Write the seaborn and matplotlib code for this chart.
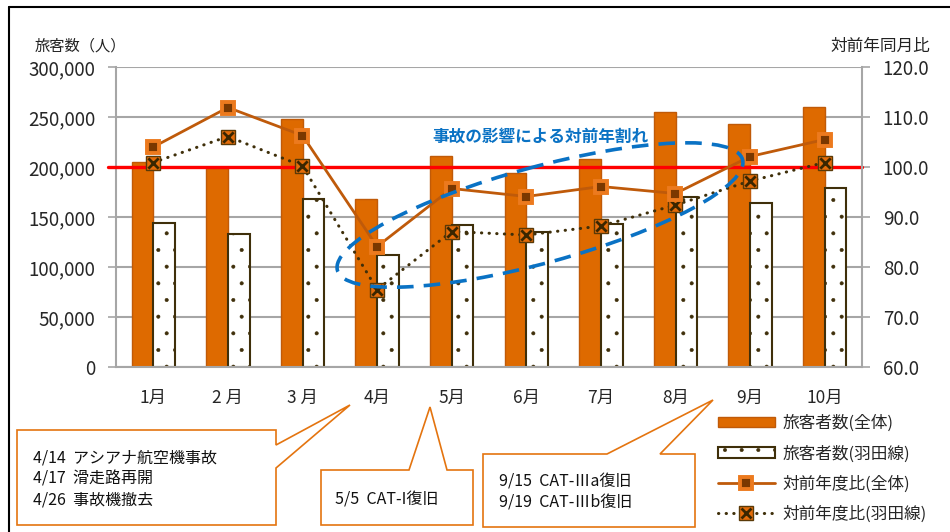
import numpy as np
import pandas as pd
import matplotlib
matplotlib.use("Agg")
import matplotlib.pyplot as plt
import seaborn as sns
from matplotlib import transforms as mtransforms
from matplotlib.patches import Polygon, Ellipse, Patch
from matplotlib.lines import Line2D
from matplotlib.legend_handler import HandlerTuple
from matplotlib.ticker import FuncFormatter

# ---------------- data ----------------
months = ["1月", "2 月", "3 月", "4月", "5月", "6月", "7月", "8月", "9月", "10月"]
pax_total = [205000, 199500, 248000, 168000, 211000, 194500, 208000, 255000, 243500, 260000]
pax_haneda = [144000, 133500, 168000, 112500, 142000, 135000, 143000, 170000, 164000, 179500]
yoy_total = [104.0, 111.9, 106.3, 84.1, 95.7, 94.1, 96.1, 94.7, 102.1, 105.5]
yoy_haneda = [100.9, 106.1, 100.2, 75.5, 87.1, 86.4, 88.2, 92.4, 97.2, 100.9]
series_names = ["旅客者数(全体)", "旅客者数(羽田線)", "対前年度比(全体)", "対前年度比(羽田線)"]
left_ticks = [0, 50000, 100000, 150000, 200000, 250000, 300000]
right_ticks = [60, 70, 80, 90, 100, 110, 120]
baseline = 100.0
left_title = "旅客数（人）"
right_title = "対前年同月比"
note_text = "事故の影響による対前年割れ"
callout1 = ["4/14  アシアナ航空機事故", "4/17  滑走路再開", "4/26  事故機撤去"]
callout2 = ["5/5  CAT-I復旧"]
callout3 = ["9/15  CAT-Ⅲa復旧", "9/19  CAT-Ⅲb復旧"]

# ---------------- style ----------------
sns.set_style("white")
plt.rcParams["font.family"] = ["Noto Sans CJK JP", "DejaVu Sans"]
plt.rcParams["hatch.linewidth"] = 0.4

ORANGE = "#DE6A00"
ORANGE_EDGE = "#C05A08"
DARK = "#3F2F0A"
LINE1 = "#BF5A0A"
MK_EDGE = "#EC7A1E"
MK_FACE = "#7A3800"
GRID = "#A6A6A6"
BLUE = "#0A72C4"
CALLOUT = "#E4740F"

W, H, DPI = 950, 532, 100
fig = plt.figure(figsize=(W / DPI, H / DPI), dpi=DPI)
T = mtransforms.Affine2D().scale(1 / DPI, -1 / DPI).translate(0, H / DPI) + fig.dpi_scale_trans

ax_l, ax_r, ax_t, ax_b = 116, 862, 67, 367
ax = fig.add_axes([ax_l / W, 1 - ax_b / H, (ax_r - ax_l) / W, (ax_b - ax_t) / H])

df = pd.DataFrame({
    "month": months * 2,
    "series": [series_names[0]] * len(months) + [series_names[1]] * len(months),
    "value": pax_total + pax_haneda,
})
sns.barplot(data=df, x="month", y="value", hue="series", order=months,
            hue_order=series_names[:2],
            palette={series_names[0]: ORANGE, series_names[1]: "white"},
            width=0.58, saturation=1, legend=False, ax=ax, zorder=2)
for p in ax.containers[0]:
    p.set_edgecolor(ORANGE_EDGE)
    p.set_linewidth(1.0)
for p in ax.containers[1]:
    p.set_edgecolor(DARK)
    p.set_linewidth(1.5)
    p.set_hatch(".")

ax.set_xlim(-0.5, len(months) - 0.5)
ax.set_ylim(left_ticks[0], left_ticks[-1])
ax.set_yticks(left_ticks)
ax.yaxis.set_major_formatter(FuncFormatter(lambda v, p: f"{int(v):,}"))
ax.set_xticks(range(len(months)))
ax.set_xticklabels(months)
ax.set_xticks(np.arange(-0.5, len(months)), minor=True)
ax.tick_params(axis="x", which="major", length=0, pad=16, labelsize=12.5)
ax.tick_params(axis="x", which="minor", length=6, width=1.2, color=GRID, direction="out")
ax.tick_params(axis="y", length=6, width=1.2, color=GRID, pad=9, labelsize=13.5, left=True)
ax.set_xlabel("")
ax.set_ylabel("")
ax.grid(axis="y", color=GRID, linewidth=1.5, zorder=0)
ax.set_axisbelow(True)
for s in ["top", "right"]:
    ax.spines[s].set_visible(False)
for s in ["left", "bottom"]:
    ax.spines[s].set_color(GRID)
    ax.spines[s].set_linewidth(1.5)

# ---------------- secondary axis ----------------
ax2 = ax.twinx()
ax2.set_ylim(right_ticks[0], right_ticks[-1])
ax2.set_yticks(right_ticks)
ax2.yaxis.set_major_formatter(FuncFormatter(lambda v, p: f"{v:.1f}"))
ax2.tick_params(axis="y", length=6, width=1.2, color=GRID, pad=9, labelsize=13.5)
for s in ["top", "left", "bottom"]:
    ax2.spines[s].set_visible(False)
ax2.spines["right"].set_color(GRID)
ax2.spines["right"].set_linewidth(1.5)
ax2.grid(False)

ax2.axhline(baseline, xmin=-0.011, xmax=1, color="#FF0000", linewidth=2.4, zorder=2, clip_on=False)

xpos = np.arange(len(months))
sns.lineplot(x=xpos, y=yoy_haneda, ax=ax2, color=DARK, linewidth=2.2,
             linestyle=(0, (0.1, 2.4)), dash_capstyle="round",
             marker="s", markersize=9.5, markerfacecolor="#E46C0A",
             markeredgecolor="#5A3A08", markeredgewidth=1.0, zorder=4)
sns.scatterplot(x=xpos, y=yoy_haneda, ax=ax2, marker="x", s=55, color="#3A2600",
                linewidth=2.0, zorder=5)
sns.lineplot(x=xpos, y=yoy_total, ax=ax2, color=LINE1, linewidth=2.0,
             marker="s", markersize=8, markerfacecolor=MK_FACE,
             markeredgecolor=MK_EDGE, markeredgewidth=2.8, zorder=6)
ax2.set_xlim(-0.5, len(months) - 0.5)

# ---------------- titles ----------------
fig.text(35, 46, left_title, transform=T, ha="left", va="center", fontsize=11, color="#222222")
fig.text(930, 46, right_title, transform=T, ha="right", va="center", fontsize=12, color="#222222")

# ---------------- ellipse + note ----------------
ell = Ellipse((540, 215), 420, 96, angle=-15.3, transform=T, fill=False,
              edgecolor=BLUE, linewidth=2.6, linestyle=(0, (4.6, 2.8)), zorder=10)
fig.add_artist(ell)
fig.text(432, 137, note_text, transform=T, ha="left", va="center", fontsize=12,
         fontweight="bold", color=BLUE, zorder=11)

# ---------------- callouts ----------------
def callout(pts, lines, x0, y0, dy):
    poly = Polygon(pts, closed=True, transform=T, facecolor="white",
                   edgecolor=CALLOUT, linewidth=1.2, zorder=8)
    fig.add_artist(poly)
    for i, t in enumerate(lines):
        fig.text(x0, y0 + i * dy, t, transform=T, ha="left", va="center",
                 fontsize=11.5, color="#111111", zorder=9)

callout([(17, 430), (276, 430), (276, 445), (350, 405), (276, 468), (276, 525), (17, 525)],
        callout1, 33, 458, 21)
callout([(321, 470), (409, 470), (430, 407), (447, 470), (473, 470), (473, 525), (321, 525)],
        callout2, 335, 500, 21)
callout([(483, 454), (607, 454), (713, 400), (660, 454), (695, 454), (695, 527), (483, 527)],
        callout3, 499, 482, 21)

# ---------------- legend ----------------
h1 = Patch(facecolor=ORANGE, edgecolor=ORANGE_EDGE)
h2 = Patch(facecolor="white", edgecolor=DARK, hatch=".", linewidth=1.5)
h3 = Line2D([], [], color=LINE1, linewidth=2.0, marker="s", markersize=8,
            markerfacecolor=MK_FACE, markeredgecolor=MK_EDGE, markeredgewidth=2.8)
h4a = Line2D([], [], color=DARK, linewidth=2.2, linestyle=(0, (0.1, 2.4)),
             dash_capstyle="round", marker="s", markersize=9.5,
             markerfacecolor="#E46C0A", markeredgecolor="#5A3A08", markeredgewidth=1.0)
h4b = Line2D([], [], linestyle="none", marker="x", markersize=7, color="#3A2600",
             markeredgewidth=2.0)
fig.legend([h1, h2, h3, (h4a, h4b)], series_names, loc="upper left",
           bbox_to_anchor=(718 / W, 1 - 415 / H), frameon=False, fontsize=12,
           handlelength=3.4, handleheight=0.55, labelspacing=0.78, handletextpad=0.45,
           borderpad=0, borderaxespad=0, handler_map={tuple: HandlerTuple(ndivide=1)})

# ---------------- frame ----------------
fig.add_artist(Line2D([9, W], [7, 7], transform=T, color="black", linewidth=1.5))
fig.add_artist(Line2D([9, 9], [7, H], transform=T, color="black", linewidth=1.5))

fig.savefig("out.png", dpi=DPI)
